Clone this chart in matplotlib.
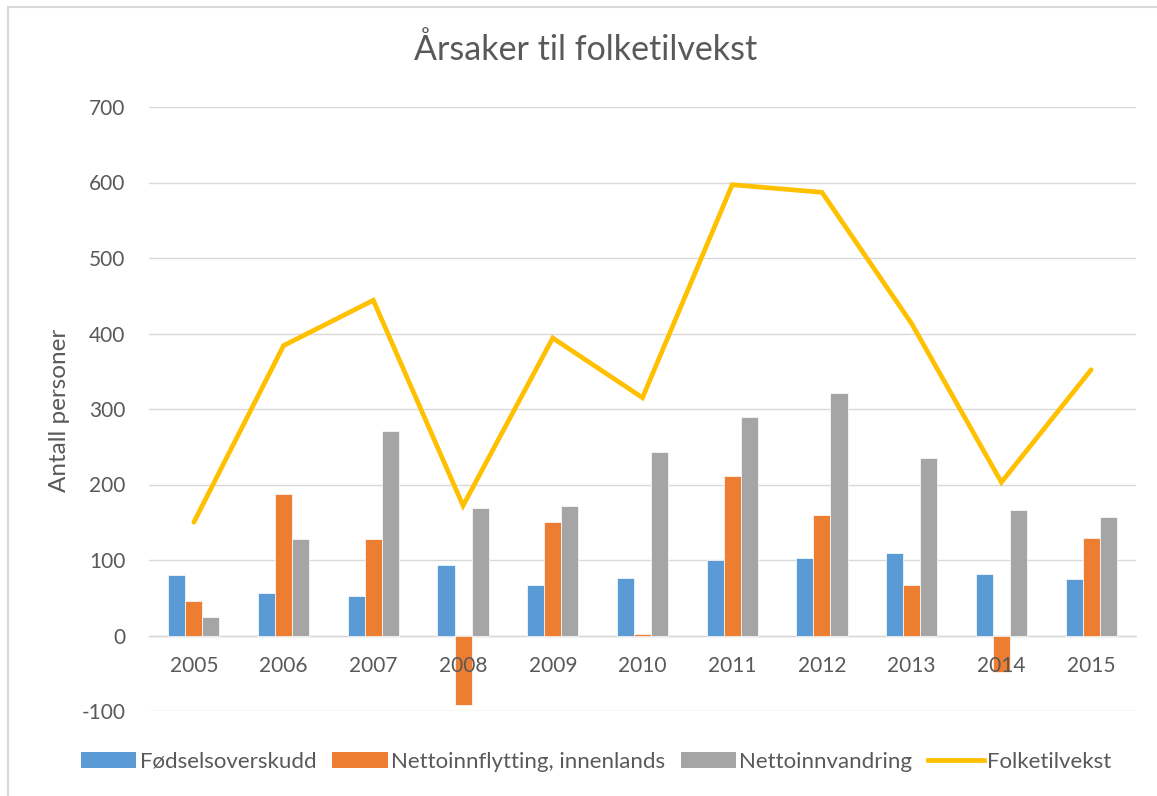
import numpy as np
import matplotlib
matplotlib.use('Agg')
import matplotlib.pyplot as plt
from matplotlib.patches import Patch, Rectangle
from matplotlib.lines import Line2D

# Data
years = ['2005', '2006', '2007', '2008', '2009', '2010',
         '2011', '2012', '2013', '2014', '2015']
fodselsoverskudd = [80, 56, 52, 93, 67, 76, 100, 103, 109, 81, 75]
nettoinnflytting = [46, 188, 128, -92, 150, 2, 211, 160, 67, -48, 129]
nettoinnvandring = [24, 128, 271, 169, 171, 243, 289, 321, 235, 166, 157]
folketilvekst = [150, 384, 444, 172, 394, 315, 597, 587, 413, 203, 352]

colors = {
    'blue': '#5B9BD5',
    'orange': '#ED7D31',
    'gray': '#A5A5A5',
    'yellow': '#FFC000',
}
text_col = '#595959'
grid_col = '#D9D9D9'

plt.rcParams['font.family'] = ['Lato', 'DejaVu Sans']
plt.rcParams['axes.unicode_minus'] = False

fig = plt.figure(figsize=(11.57, 7.96), dpi=100)
ax = fig.add_axes([149 / 1157, 85 / 796, 987 / 1157, 604 / 796])

x = np.arange(len(years))
w = 0.19
ax.bar(x - w, fodselsoverskudd, w, color=colors['blue'], edgecolor='white', linewidth=0.5)
ax.bar(x, nettoinnflytting, w, color=colors['orange'], edgecolor='white', linewidth=0.5)
ax.bar(x + w, nettoinnvandring, w, color=colors['gray'], edgecolor='white', linewidth=0.5)
ax.plot(x, folketilvekst, color=colors['yellow'], linewidth=3.4,
        solid_capstyle='round', solid_joinstyle='miter', zorder=3)

ax.set_xlim(-0.5, len(years) - 0.5)
ax.set_ylim(-100, 700)
ax.set_yticks(range(-100, 701, 100))
ax.set_xticks(x)
ax.set_xticklabels(years)

ax.set_axisbelow(True)
ax.grid(axis='y', color=grid_col, linewidth=1.0)
ax.xaxis.set_zorder(5)  # year labels over the negative bars
for s in ['left', 'right', 'top']:
    ax.spines[s].set_visible(False)
ax.spines['bottom'].set_position(('data', 0))
ax.spines['bottom'].set_color(grid_col)
ax.spines['bottom'].set_linewidth(1.0)
ax.spines['bottom'].set_zorder(0.6)
ax.tick_params(axis='both', length=0, labelsize=15, labelcolor=text_col)
ax.tick_params(axis='y', pad=17)
ax.tick_params(axis='x', pad=15)

ax.set_ylabel('Antall personer', fontsize=17.5, color=text_col)
ax.yaxis.set_label_coords(59 / 1157, 410 / 796, transform=fig.transFigure)
ax.yaxis.label.set_va('center')
ax.yaxis.label.set_y(1 - 410 / 796)

fig.text(586 / 1157, 1 - 50 / 796, 'Årsaker til folketilvekst',
         ha='center', va='center', fontsize=24.5, color=text_col)

handles = [
    Patch(facecolor=colors['blue'], label='Fødselsoverskudd'),
    Patch(facecolor=colors['orange'], label='Nettoinnflytting, innenlands'),
    Patch(facecolor=colors['gray'], label='Nettoinnvandring'),
    Line2D([0], [0], color=colors['yellow'], linewidth=3.4, label='Folketilvekst'),
]
leg = fig.legend(handles=handles, loc='center', bbox_to_anchor=(596 / 1157, 1 - 762 / 796),
                 ncol=4, frameon=False, fontsize=16, handlelength=2.5, handleheight=0.75,
                 handletextpad=0.15, columnspacing=0.7)
for t in leg.get_texts():
    t.set_color(text_col)

# light chart border
fig.patches.append(Rectangle((8 / 1157, -0.05), 1.1, 1 - 7 / 796 + 0.05,
                             transform=fig.transFigure, fill=False,
                             edgecolor=grid_col, linewidth=1.5))

fig.savefig('out.png', dpi=100)
